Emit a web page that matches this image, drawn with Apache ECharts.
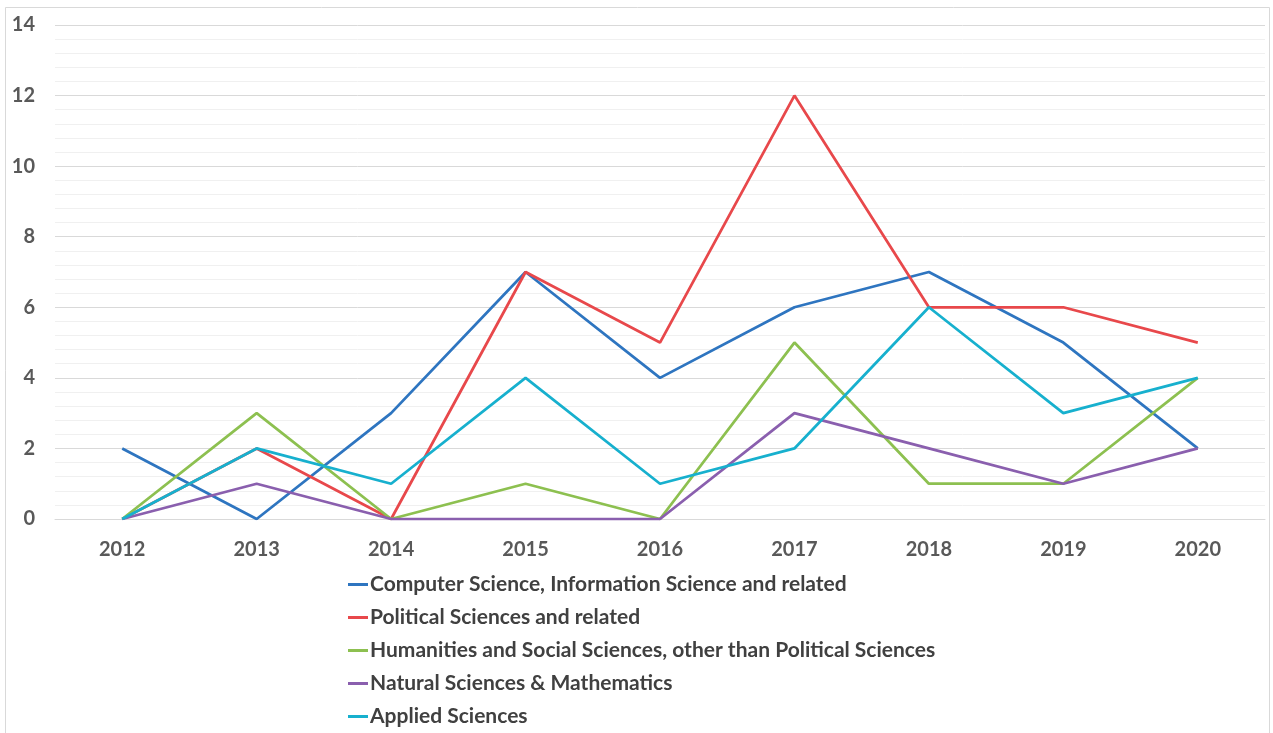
<!DOCTYPE html>
<html>
<head>
<meta charset="utf-8">
<script src="https://cdn.jsdelivr.net/npm/echarts@6/dist/echarts.min.js"></script>
<style>html,body{margin:0;padding:0;background:#fff;}#c{width:1273px;height:733px;}</style>
</head>
<body>
<div id="c"></div>
<script>
const years = ['2012','2013','2014','2015','2016','2017','2018','2019','2020'];
const seriesNames = [
  'Computer Science, Information Science and related',
  'Political Sciences and related',
  'Humanities and Social Sciences, other than Political Sciences',
  'Natural Sciences & Mathematics',
  'Applied Sciences'
];
const computerScience = [2, 0, 3, 7, 4, 6, 7, 5, 2];
const politicalSciences = [0, 2, 0, 7, 5, 12, 6, 6, 5];
const humanities = [0, 3, 0, 1, 0, 5, 1, 1, 4];
const naturalSciences = [0, 1, 0, 0, 0, 3, 2, 1, 2];
const appliedSciences = [0, 2, 1, 4, 1, 2, 6, 3, 4];
const colors = ['#2E75C0', '#E8484B', '#8DC050', '#8A5FAE', '#17B0CE'];
const allData = [computerScience, politicalSciences, humanities, naturalSciences, appliedSciences];
const FONT = 'Lato';

const chart = echarts.init(document.getElementById('c'));
chart.setOption({
  animation: false,
  backgroundColor: '#fff',
  graphic: [{
    type: 'rect', shape: {x: 5.5, y: 7.5, width: 1264, height: 740},
    style: {fill: 'none', stroke: '#d9d9d9', lineWidth: 1}, silent: true, z: -1
  }],
  grid: {left: 55, right: 8, top: 25, bottom: 214, containLabel: false},
  legend: {
    orient: 'vertical', left: 348, top: 574, padding: 0,
    height: 158,
    itemWidth: 20, itemHeight: 3, itemGap: 12,
    icon: 'rect',
    textStyle: {fontFamily: FONT, fontSize: 21, fontWeight: 'bold', color: '#404040', lineHeight: 20, padding: [0, 0, 0, -3]},
    data: seriesNames
  },
  xAxis: {
    type: 'category', data: years, boundaryGap: true,
    axisLine: {show: true, lineStyle: {color: '#d9d9d9', width: 1}},
    axisTick: {show: false},
    axisLabel: {fontFamily: FONT, fontSize: 20, fontWeight: 'bold', color: '#595959', margin: 21},
    splitLine: {show: false}
  },
  yAxis: {
    type: 'value', min: 0, max: 14, interval: 2,
    axisLine: {show: false}, axisTick: {show: false},
    axisLabel: {fontFamily: FONT, fontSize: 20, fontWeight: 'bold', color: '#595959', margin: 20},
    splitLine: {show: true, lineStyle: {color: '#d9d9d9', width: 1}},
    minorTick: {show: false, splitNumber: 5},
    minorSplitLine: {show: true, lineStyle: {color: '#f0f0f0', width: 1}}
  },
  series: seriesNames.map((n, i) => ({
    name: n, type: 'line', data: allData[i],
    showSymbol: false, symbol: 'none',
    lineStyle: {color: colors[i], width: 2.75},
    itemStyle: {color: colors[i]}
  }))
});
</script>
</body>
</html>
